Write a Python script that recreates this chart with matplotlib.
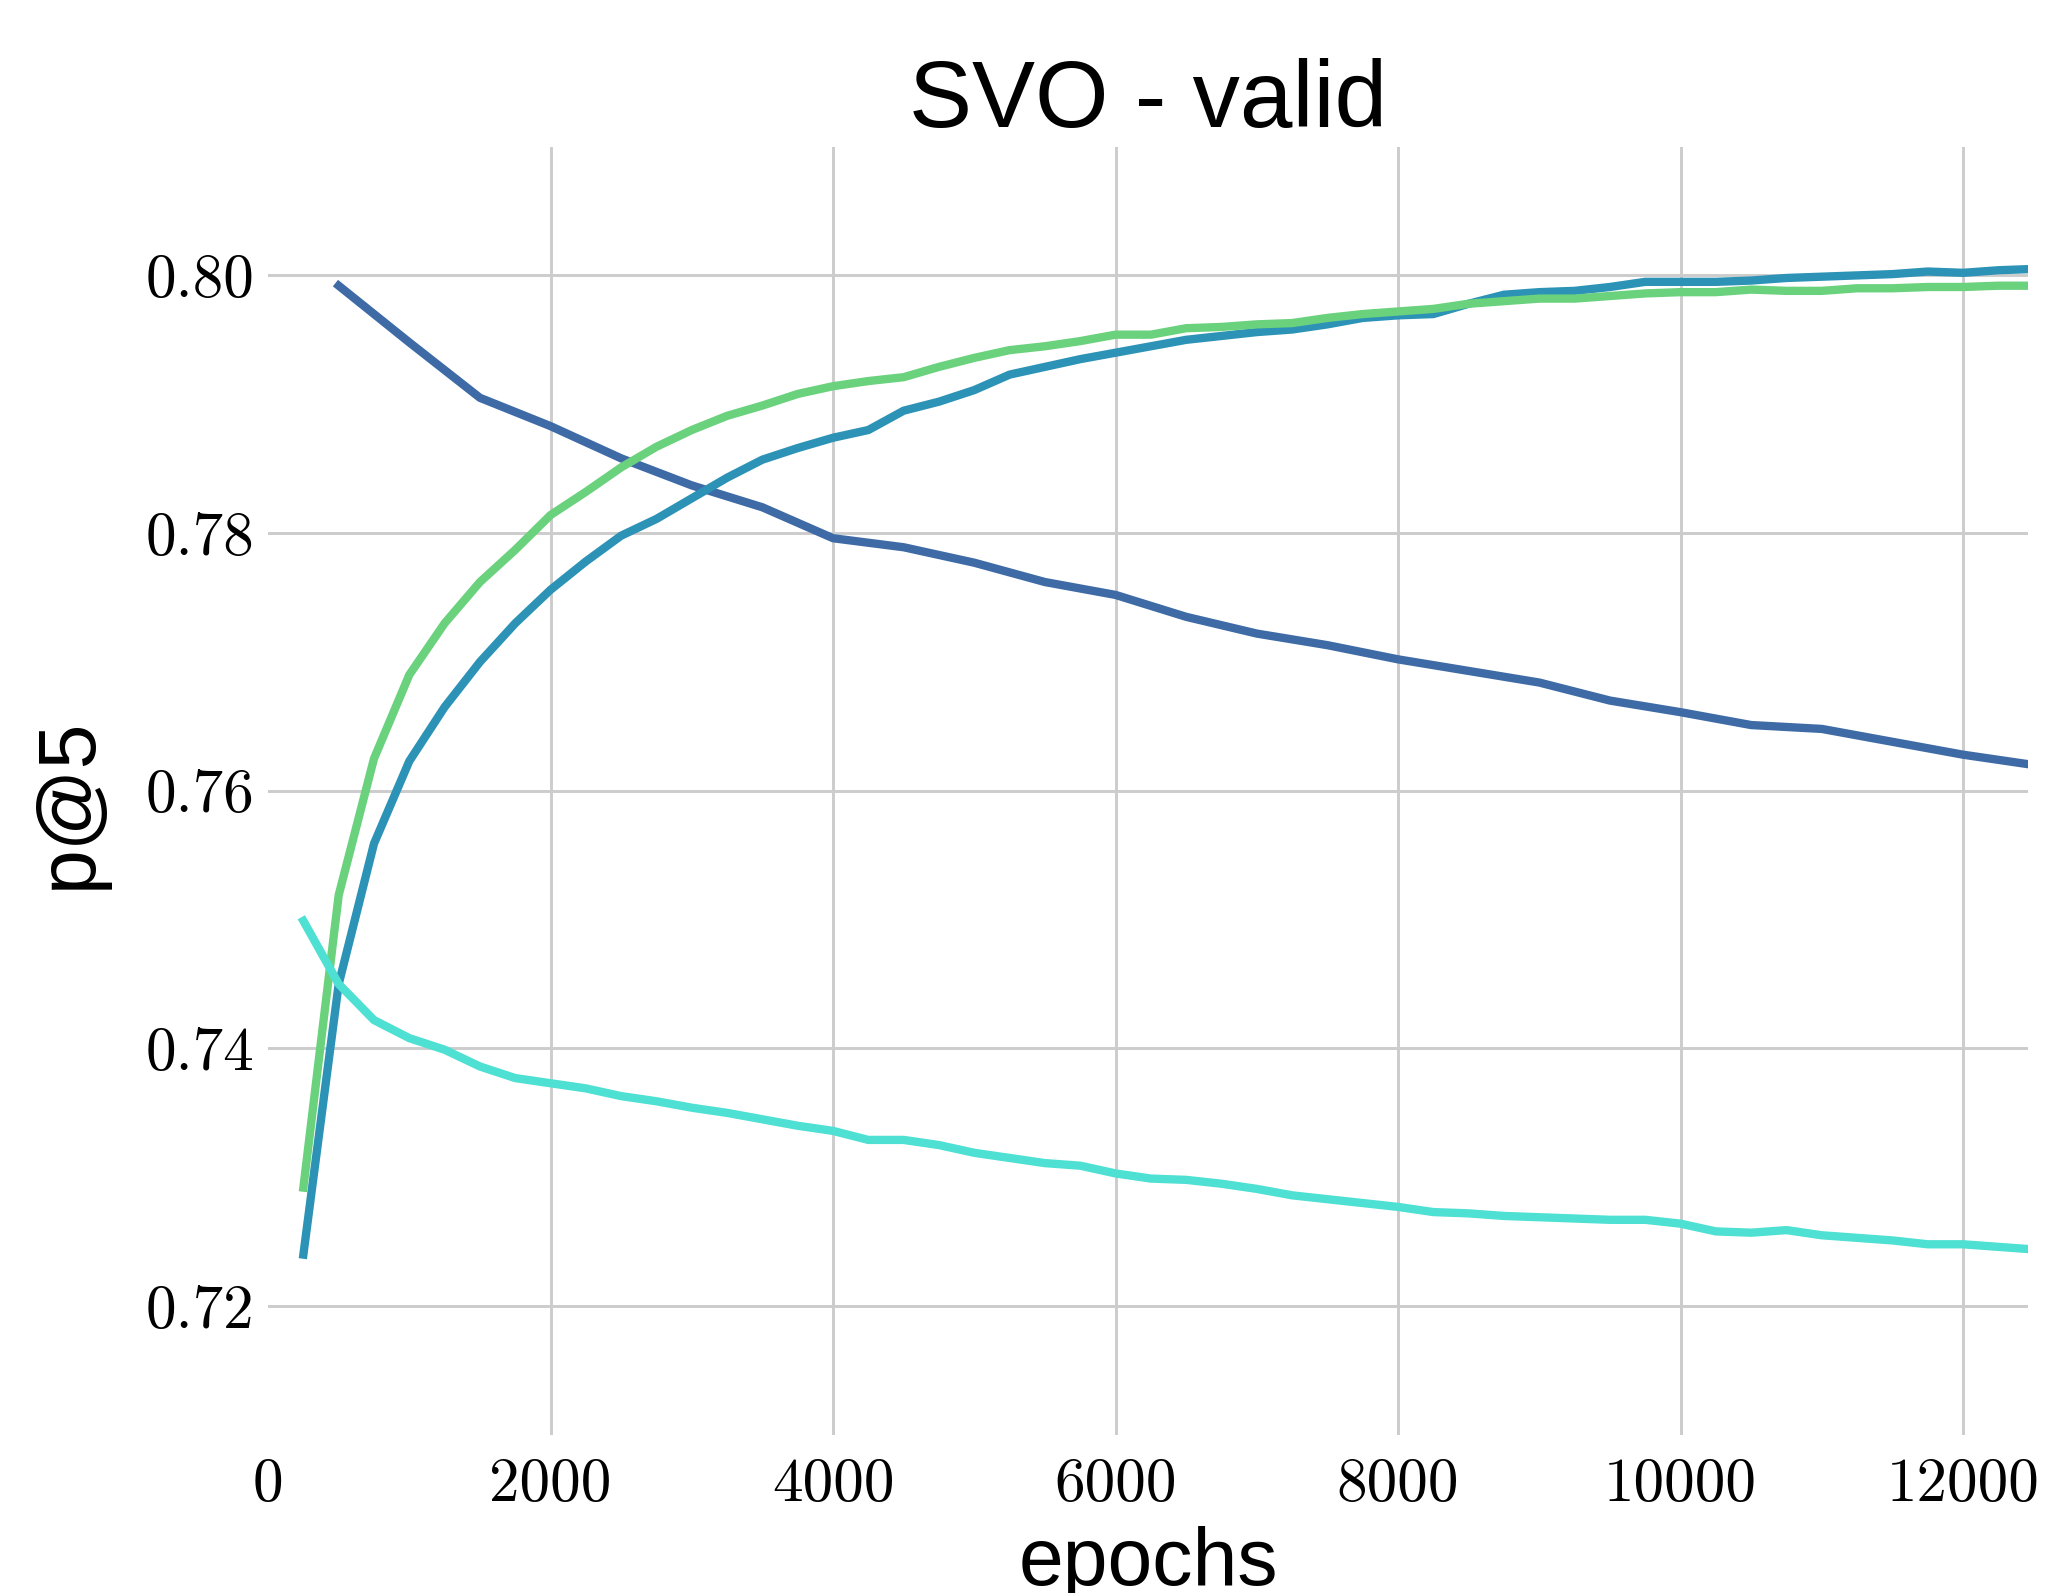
import matplotlib
matplotlib.use("Agg")
import matplotlib.pyplot as plt

# epochs sampled every 500 (first run) and every 250 (other runs)
epochs_a = list(range(500, 12501, 500))
epochs = list(range(250, 12501, 250))

p5_a = [0.7992, 0.7948, 0.7905, 0.7883, 0.7858, 0.7837, 0.7820, 0.7796, 0.7789,
        0.7777, 0.7762, 0.7752, 0.7735, 0.7722, 0.7713, 0.7702, 0.7693, 0.7684,
        0.7670, 0.7661, 0.7651, 0.7648, 0.7638, 0.7628, 0.7620]

p5_b = [0.7292, 0.7519, 0.7625, 0.7690, 0.7730, 0.7762, 0.7787, 0.7814, 0.7832,
        0.7851, 0.7867, 0.7880, 0.7891, 0.7899, 0.7908, 0.7914, 0.7918, 0.7921,
        0.7929, 0.7936, 0.7942, 0.7945, 0.7949, 0.7954, 0.7954, 0.7959, 0.7960,
        0.7962, 0.7963, 0.7967, 0.7970, 0.7972, 0.7974, 0.7978, 0.7980, 0.7982,
        0.7982, 0.7984, 0.7986, 0.7987, 0.7987, 0.7989, 0.7988, 0.7988, 0.7990,
        0.7990, 0.7991, 0.7991, 0.7992, 0.7992]

p5_c = [0.7240, 0.7450, 0.7559, 0.7623, 0.7665, 0.7700, 0.7730, 0.7756, 0.7778,
        0.7798, 0.7811, 0.7827, 0.7843, 0.7857, 0.7866, 0.7874, 0.7880, 0.7895,
        0.7902, 0.7911, 0.7923, 0.7929, 0.7935, 0.7940, 0.7945, 0.7950, 0.7953,
        0.7956, 0.7958, 0.7962, 0.7967, 0.7969, 0.7970, 0.7978, 0.7985, 0.7987,
        0.7988, 0.7991, 0.7995, 0.7995, 0.7995, 0.7996, 0.7998, 0.7999, 0.8000,
        0.8001, 0.8003, 0.8002, 0.8004, 0.8005]

p5_d = [0.7499, 0.7450, 0.7422, 0.7408, 0.7399, 0.7386, 0.7377, 0.7373, 0.7369,
        0.7363, 0.7359, 0.7354, 0.7350, 0.7345, 0.7340, 0.7336, 0.7329, 0.7329,
        0.7325, 0.7319, 0.7315, 0.7311, 0.7309, 0.7303, 0.7299, 0.7298, 0.7295,
        0.7291, 0.7286, 0.7283, 0.7280, 0.7277, 0.7273, 0.7272, 0.7270, 0.7269,
        0.7268, 0.7267, 0.7267, 0.7264, 0.7258, 0.7257, 0.7259, 0.7255, 0.7253,
        0.7251, 0.7248, 0.7248, 0.7246, 0.7244]

x_ticks = [0, 2000, 4000, 6000, 8000, 10000, 12000]
y_ticks = [0.72, 0.74, 0.76, 0.78, 0.80]
y_tick_labels = ["0.72", "0.74", "0.76", "0.78", "0.80"]

COLORS = {"a": "#3e6ba6", "b": "#6ad17d", "c": "#2c93b6", "d": "#4de0d3"}
LW = 6.0

fig = plt.figure(figsize=(20.51, 15.93), dpi=100)
ax = fig.add_axes([0.1307, 0.0992, 0.8581, 0.8088])

ax.plot(epochs_a, p5_a, color=COLORS["a"], lw=LW)
ax.plot(epochs, p5_c, color=COLORS["c"], lw=LW)
ax.plot(epochs, p5_b, color=COLORS["b"], lw=LW)
ax.plot(epochs, p5_d, color=COLORS["d"], lw=LW)

ax.set_xlim(0, 12460)
ax.set_ylim(0.71, 0.81)
ax.set_xticks(x_ticks)
ax.set_xticklabels([str(t) for t in x_ticks])
ax.set_yticks(y_ticks)
ax.set_yticklabels(y_tick_labels)

for lab in ax.get_xticklabels() + ax.get_yticklabels():
    lab.set_fontfamily("cmr10")
    lab.set_fontsize(44)

ax.tick_params(axis="both", length=0)
ax.tick_params(axis="x", pad=16)
ax.tick_params(axis="y", pad=10)
ax.grid(True, color="#cccccc", lw=2.1)
ax.set_axisbelow(True)
# no vertical grid line on the left edge (x = 0)
ax.xaxis.get_gridlines()[0].set_visible(False)
for s in ax.spines.values():
    s.set_visible(False)

sans = ["Liberation Sans", "DejaVu Sans"]
ax.set_title("SVO - valid", fontsize=68, family=sans, pad=14)
ax.set_xlabel("epochs", fontsize=58, family=sans, labelpad=10)
ax.set_ylabel("p@5", fontsize=58, family=sans)
ax.yaxis.set_label_coords(-0.091, 0.49)

fig.savefig("out.png", dpi=100)
